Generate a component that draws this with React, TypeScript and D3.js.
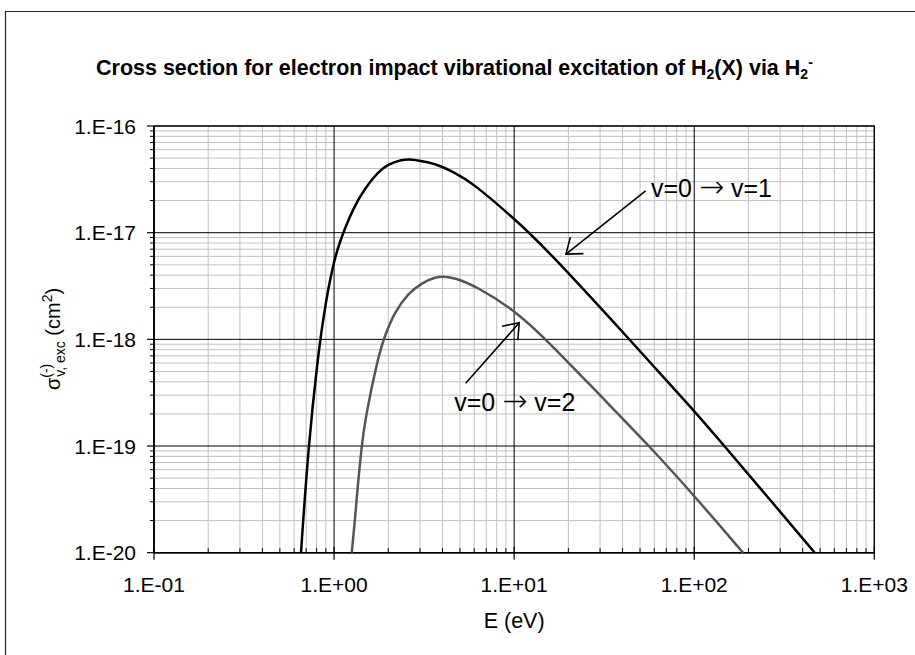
import React from "react";
import * as d3 from "d3";

// ---- data ----
const xTickValues = [0.1, 1, 10, 100, 1000];
const xTickLabels = ["1.E-01", "1.E+00", "1.E+01", "1.E+02", "1.E+03"];
const yTickValues = [1e-16, 1e-17, 1e-18, 1e-19, 1e-20];
const yTickLabels = ["1.E-16", "1.E-17", "1.E-18", "1.E-19", "1.E-20"];

// v=0 -> v=1
const energy01 = [0.655, 0.72, 0.811, 0.871, 0.929, 1.0025, 1.078, 1.15, 1.278, 1.484, 1.76, 2.0, 2.374, 2.697, 3.336, 3.875, 4.69, 5.685, 10.0, 15.8, 43.9, 100.8, 147.8, 263, 467];
const sigma01 = [1e-20, 1.0e-19, 6.64e-19, 1.575e-18, 3.01e-18, 5.54e-18, 8.23e-18, 1.1e-17, 1.69e-17, 2.61e-17, 3.73e-17, 4.38e-17, 4.83e-17, 4.91e-17, 4.57e-17, 4.26e-17, 3.63e-17, 3.05e-17, 1.365e-17, 6.5e-18, 9.9e-19, 2.11e-19, 9.9e-20, 3.15e-20, 1.0e-20];

// v=0 -> v=2
const energy02 = [1.254, 1.306, 1.352, 1.424, 1.484, 1.746, 1.918, 2.179, 2.582, 3.064, 3.634, 4.04, 4.69, 6.19, 10.0, 15.15, 29.9, 56.7, 100.8, 186.8];
const sigma02 = [1e-20, 2.03e-20, 4.16e-20, 1e-19, 1.75e-19, 6.64e-19, 1.1e-18, 1.82e-18, 2.7e-18, 3.37e-18, 3.82e-18, 3.9e-18, 3.78e-18, 3.12e-18, 1.89e-18, 9.9e-19, 3.0e-19, 9.9e-20, 3.37e-20, 1.0e-20];

// annotations (data coordinates)
const annLabelsA = ["v=0", "v=0"];
const annLabelsB = ["v=1", "v=2"];
const annTextE = [57.5, 4.65];
const annTextS = [2.17e-17, 2.13e-19];
const annTailE = [53.7, 5.38];
const annTailS = [2.46e-17, 3.88e-19];
const annTipE = [19.4, 10.67];
const annTipS = [6.3e-18, 1.43e-18];

const FONT = "'Liberation Sans', Arial, Helvetica, sans-serif";

export default function App() {
  const W = 915, H = 655;
  const left = 154, right = 874.3, top = 126, bottom = 552.7;
  const x = d3.scaleLog().domain([0.1, 1000]).range([left, right]);
  const y = d3.scaleLog().domain([1e-20, 1e-16]).range([bottom, top]);

  const minorX: number[] = [];
  for (let d = 0.1; d < 1000 - 1e-9; d *= 10) for (let k = 2; k <= 9; k++) minorX.push(k * d);
  const minorY: number[] = [];
  for (let d = 1e-20; d < 1e-16 * 0.999; d *= 10) for (let k = 2; k <= 9; k++) minorY.push(k * d);

  const line = d3
    .line<[number, number]>()
    .x((d) => x(d[0]))
    .y((d) => y(d[1]))
    .curve(d3.curveBasis);

  const c1 = line(energy01.map((e, i) => [e, sigma01[i]] as [number, number])) || "";
  const c2 = line(energy02.map((e, i) => [e, sigma02[i]] as [number, number])) || "";

  const arrowHead = (tx: number, ty: number, sx: number, sy: number) => {
    const a = Math.atan2(sy - ty, sx - tx);
    const len = 17.5, half = (37 * Math.PI) / 180;
    const p1 = [tx + len * Math.cos(a + half), ty + len * Math.sin(a + half)];
    const p2 = [tx + len * Math.cos(a - half), ty + len * Math.sin(a - half)];
    return `M${p1[0]},${p1[1]}L${tx},${ty}L${p2[0]},${p2[1]}`;
  };

  return (
    <svg width={W} height={H} style={{ position: "absolute", left: 0, top: 0, background: "#fff" }} fontFamily={FONT}>
      <defs>
        <clipPath id="plotClip">
          <rect x={left} y={top} width={right - left} height={bottom - top + 1} />
        </clipPath>
      </defs>
      <rect x={0} y={0} width={W} height={H} fill="#fff" />
      {/* outer chart frame */}
      <path d={`M5.5,${H + 5}V11.5H${W + 5}`} fill="none" stroke="#222" strokeWidth={1.2} />

      {/* title */}
      <text x={96} y={75} fontSize={21.5} fontWeight="bold" fill="#000">
        Cross section for electron impact vibrational excitation of H
        <tspan fontSize={14} dy={4}>2</tspan>
        <tspan dy={-4}>(X) via H</tspan>
        <tspan fontSize={14} dy={4}>2</tspan>
        <tspan fontSize={14} dy={-12}>-</tspan>
      </text>

      {/* minor grid */}
      {minorX.map((v, i) => (
        <line key={"mx" + i} x1={x(v)} x2={x(v)} y1={top} y2={bottom} stroke="#c0c0c0" strokeWidth={1} />
      ))}
      {minorY.map((v, i) => (
        <line key={"my" + i} x1={left} x2={right} y1={y(v)} y2={y(v)} stroke="#c0c0c0" strokeWidth={1} />
      ))}
      {/* major grid */}
      {xTickValues.map((v, i) => (
        <line key={"gx" + i} x1={x(v)} x2={x(v)} y1={top} y2={bottom} stroke="#000" strokeWidth={1} />
      ))}
      {yTickValues.map((v, i) => (
        <line key={"gy" + i} x1={left} x2={right} y1={y(v)} y2={y(v)} stroke="#000" strokeWidth={1} />
      ))}
      {/* plot border */}
      <rect x={left} y={top} width={right - left} height={bottom - top} fill="none" stroke="#000" strokeWidth={1.2} />
      <line x1={left} x2={left} y1={top} y2={bottom} stroke="#000" strokeWidth={1.5} />
      <line x1={left} x2={right} y1={bottom} y2={bottom} stroke="#000" strokeWidth={1.5} />

      {/* ticks */}
      {yTickValues.map((v, i) => (
        <line key={"ty" + i} x1={left - 7} x2={left} y1={y(v)} y2={y(v)} stroke="#000" strokeWidth={1.2} />
      ))}
      {minorY.map((v, i) => (
        <line key={"tmy" + i} x1={left - 4} x2={left} y1={y(v)} y2={y(v)} stroke="#000" strokeWidth={1} />
      ))}
      {xTickValues.map((v, i) => (
        <line key={"tx" + i} x1={x(v)} x2={x(v)} y1={bottom - 6} y2={bottom + 7} stroke="#000" strokeWidth={1.2} />
      ))}
      {minorX.map((v, i) => (
        <line key={"tmx" + i} x1={x(v)} x2={x(v)} y1={bottom - 4.5} y2={bottom} stroke="#000" strokeWidth={1} />
      ))}

      {/* tick labels */}
      {yTickValues.map((v, i) => (
        <text key={"ly" + i} x={136} y={y(v) + 7.5} fontSize={21} textAnchor="end" fill="#000">
          {yTickLabels[i]}
        </text>
      ))}
      {xTickValues.map((v, i) => (
        <text key={"lx" + i} x={x(v)} y={591.7} fontSize={21} textAnchor="middle" fill="#000">
          {xTickLabels[i]}
        </text>
      ))}

      {/* axis titles */}
      <text x={x(10)} y={628} fontSize={21.5} textAnchor="middle" fill="#000">
        E (eV)
      </text>
      <text transform="translate(60,339) rotate(-90)" fontSize={20} textAnchor="middle" fill="#000">
        σ
        <tspan fontSize={14} dy={-9}>(-)</tspan>
        <tspan fontSize={14} dx={-13} dy={14}>v, exc</tspan>
        <tspan dy={-5}> (cm</tspan>
        <tspan fontSize={14} dy={-8}>2</tspan>
        <tspan dy={8}>)</tspan>
      </text>

      {/* curves */}
      <g clipPath="url(#plotClip)">
        <path d={c2} fill="none" stroke="#555" strokeWidth={2.5} />
        <path d={c1} fill="none" stroke="#000" strokeWidth={2.5} />
      </g>

      {/* annotations */}
      {annLabelsA.map((lab, i) => {
        const tx = x(annTipE[i]), ty = y(annTipS[i]);
        const sx = x(annTailE[i]), sy = y(annTailS[i]);
        return (
          <g key={"ann" + i}>
            <line x1={sx} y1={sy} x2={tx} y2={ty} stroke="#000" strokeWidth={1.6} />
            <path d={arrowHead(tx, ty, sx, sy)} fill="none" stroke="#000" strokeWidth={1.6} />
            <text x={x(annTextE[i])} y={y(annTextS[i])} fontSize={25} fill="#000">
              {lab + " "}
              <tspan fontFamily="'DejaVu Sans', sans-serif" fontWeight={200} fontSize={30}>{"\u2192"}</tspan>
              {" " + annLabelsB[i]}
            </text>
          </g>
        );
      })}
    </svg>
  );
}
